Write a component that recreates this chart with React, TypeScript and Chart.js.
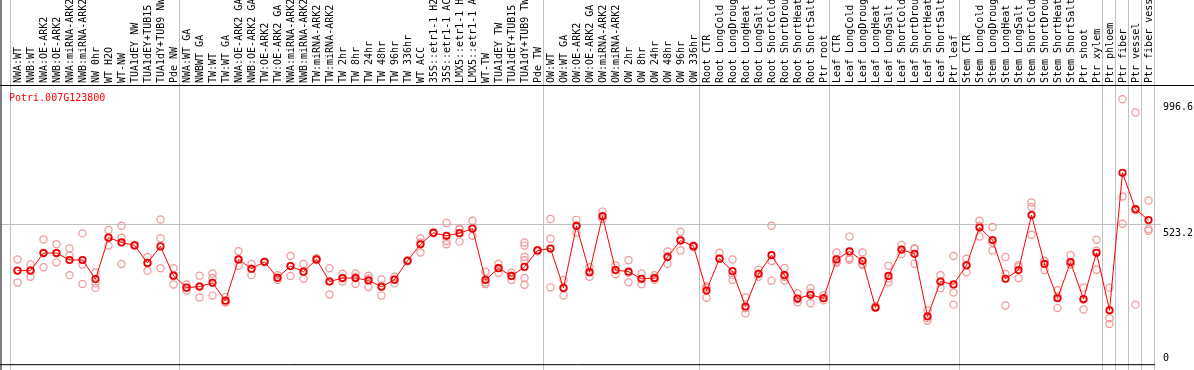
import React, { useEffect, useRef } from 'react';
import { Chart, registerables } from 'chart.js';

Chart.register(...registerables);

const categories = [
  'NWA:WT', 'NWB:WT', 'NWA:OE-ARK2', 'NWB:OE-ARK2', 'NWA:miRNA-ARK2', 'NWB:miRNA-ARK2', 'NW 0hr', 'WT H2O', 'WT-NW',
  'TUA1dEY NW', 'TUA1dEY+TUB15 NW', 'TUA1dY+TUB9 NW', 'Pde NW',
  'NWA:WT GA', 'NWBWT GA', 'TW:WT', 'TW:WT GA', 'NWA:OE-ARK2 GA', 'NWB:OE-ARK2 GA', 'TW:OE-ARK2', 'TW:OE-ARK2 GA',
  'NWA:miRNA-ARK2 GA', 'NWB:miRNA-ARK2 GA', 'TW:miRNA-ARK2', 'TW:miRNA-ARK2 GA',
  'TW 2hr', 'TW 8hr', 'TW 24hr', 'TW 48hr', 'TW 96hr', 'TW 336hr', 'WT ACC',
  '35S::etr1-1 H2O', '35S::etr1-1 ACC', 'LMX5::etr1-1 H2O', 'LMX5::etr1-1 ACC',
  'WT-TW', 'TUA1dEY TW', 'TUA1dEY+TUB15 TW', 'TUA1dY+TUB9 TW', 'Pde TW',
  'OW:WT', 'OW:WT GA', 'OW:OE-ARK2', 'OW:OE-ARK2 GA', 'OW:miRNA-ARK2', 'OW:miRNA-ARK2 GA',
  'OW 2hr', 'OW 8hr', 'OW 24hr', 'OW 48hr', 'OW 96hr', 'OW 336hr',
  'Root CTR', 'Root LongCold', 'Root LongDrought', 'Root LongHeat', 'Root LongSalt',
  'Root ShortCold', 'Root ShortDrought', 'Root ShortHeat', 'Root ShortSalt', 'Ptr root',
  'Leaf CTR', 'Leaf LongCold', 'Leaf LongDrought', 'Leaf LongHeat', 'Leaf LongSalt',
  'Leaf ShortCold', 'Leaf ShortDrought', 'Leaf ShortHeat', 'Leaf ShortSalt', 'Ptr leaf',
  'Stem CTR', 'Stem LongCold', 'Stem LongDrought', 'Stem LongHeat', 'Stem LongSalt',
  'Stem ShortCold', 'Stem ShortDrought', 'Stem ShortHeat', 'Stem ShortSalt', 'Ptr shoot',
  'Ptr xylem', 'Ptr phloem', 'Ptr fiber', 'Ptr vessel', 'Ptr fiber vessel',
];

const means = [
  352, 352, 418, 418, 392, 392, 320, 476, 458, 447, 381, 443, 333,
  288, 292, 306, 239, 394, 359, 385, 325, 369, 348, 394, 311, 324, 324, 315, 291, 318, 389, 451,
  494, 483, 493, 510, 317, 361, 332, 366, 428,
  435, 287, 520, 346, 557, 354, 348, 321, 324, 403, 465, 444,
  277, 397, 350, 217, 340, 410, 335, 247, 261, 248,
  394, 424, 389, 213, 332, 431, 415, 180, 311, 300,
  372, 514, 467, 321, 354, 561, 377, 248, 384, 245, 419,
  203, 720, 583, 542,
];

const replicates = [
  [394, 307, 352], [375, 329, 352], [469, 365, 418], [451, 383, 418], [435, 409, 335], [492, 375, 302],
  [345, 304, 287], [505, 446, 476], [521, 476, 377], [447, 445, 449], [403, 351, 381], [544, 474, 361],
  [361, 300, 333],
  [300, 277, 288], [333, 251, 292], [341, 324, 258], [253, 233, 233], [425, 370, 394], [377, 335, 359],
  [385, 383, 386], [335, 317, 325], [407, 332, 369], [377, 321, 348], [399, 394, 392], [361, 262, 311],
  [340, 311, 324], [341, 302, 329], [333, 290, 322], [319, 258, 296], [329, 304, 318], [389, 387, 391],
  [473, 420, 458], [496, 492, 496], [531, 463, 451], [510, 461, 507], [540, 483, 510], [348, 301, 307],
  [378, 344, 362], [344, 317, 333], [458, 446, 403, 391, 324, 299], [428, 429, 425],
  [546, 472, 289], [317, 258, 287], [543, 495, 521], [365, 329, 346], [574, 546, 555], [371, 338, 354],
  [391, 308, 344], [341, 301, 321], [335, 325, 318], [424, 378, 407], [498, 428, 468], [447, 444, 440],
  [292, 250, 288], [419, 397, 397], [394, 317, 335], [251, 191, 210], [355, 340, 329], [521, 388, 314],
  [362, 315, 329], [266, 233, 244], [286, 229, 269], [259, 248, 240],
  [420, 381, 385], [480, 393, 399], [420, 376, 373], [218, 213, 211], [370, 308, 322], [448, 414, 431],
  [436, 378, 433], [202, 163, 174], [335, 286, 311], [407, 270, 224],
  [397, 346, 373], [540, 480, 521], [516, 428, 458], [403, 339, 221], [372, 323, 366], [608, 591, 487],
  [388, 354, 388], [278, 211, 255], [410, 375, 377], [288, 206, 242], [468, 427, 355],
  [288, 173, 151], [996.6, 631, 528], [947, 224, 579], [616, 509, 502],
];

const yTickValues = [0, 523.2, 996.6];
const yTickLabels = ['0', '523.2', '996.6'];
const yMax = 1046.4;
const groupBreaks = [0, 13, 41, 53, 63, 73, 84, 85, 86, 87, 88];
const geneId = 'Potri.007G123800';

const MONO = '"DejaVu Sans Mono", monospace';

export default function App() {
  const ref = useRef<HTMLCanvasElement>(null);

  useEffect(() => {
    document.body.style.margin = '0';
    const canvas = ref.current;
    if (!canvas) return;

    const repData: { x: string; y: number }[] = [];
    replicates.forEach((arr, i) => {
      arr.forEach((v) => repData.push({ x: categories[i], y: v }));
    });

    const decor = {
      id: 'decor',
      beforeDraw(chart: any) {
        const { ctx, width, height, chartArea, scales } = chart;
        const xs = scales.x;
        const ys = scales.y;
        ctx.save();
        ctx.fillStyle = '#ffffff';
        ctx.fillRect(0, 0, width, height);
        ctx.lineWidth = 1;
        ctx.strokeStyle = '#c0c0c0';
        const step = xs.getPixelForValue(1) - xs.getPixelForValue(0);
        const start = xs.getPixelForValue(0) - step / 2;
        groupBreaks.forEach((b) => {
          const px = Math.round(start + b * step) - 0.5;
          ctx.beginPath();
          ctx.moveTo(px, 0);
          ctx.lineTo(px, height);
          ctx.stroke();
        });
        const gy = Math.round(ys.getPixelForValue(yTickValues[1])) - 0.5;
        ctx.beginPath();
        ctx.moveTo(1, gy);
        ctx.lineTo(chartArea.right + 6, gy);
        ctx.stroke();

        ctx.strokeStyle = '#000000';
        ctx.beginPath();
        ctx.moveTo(0, chartArea.top - 0.5);
        ctx.lineTo(width, chartArea.top - 0.5);
        ctx.moveTo(1, 0);
        ctx.lineTo(1, height);
        ctx.moveTo(0, chartArea.bottom + 0.5);
        ctx.lineTo(chartArea.right, chartArea.bottom + 0.5);
        ctx.stroke();
        ctx.restore();
      },
      afterDatasetsDraw(chart: any) {
        const { ctx, chartArea, scales } = chart;
        const ys = scales.y;
        ctx.save();
        ctx.font = '10px ' + MONO;
        ctx.textBaseline = 'alphabetic';
        ctx.textAlign = 'left';
        ctx.fillStyle = '#ff0000';
        ctx.fillText(geneId, 9, chartArea.top + 15);
        ctx.fillStyle = '#000000';
        yTickValues.forEach((v, i) => {
          const py = ys.getPixelForValue(v);
          const by = v === 0 ? py - 3 : py + 10.5;
          ctx.fillText(yTickLabels[i], chartArea.right + 8, by);
        });
        ctx.restore();
      },
    };

    const chart = new Chart(canvas, {
      type: 'line',
      data: {
        labels: categories,
        datasets: [
          {
            label: 'mean',
            data: means,
            borderColor: '#ff0000',
            borderWidth: 1,
            pointRadius: 3.2,
            pointBorderWidth: 1.8,
            pointBorderColor: '#f00000',
            pointBackgroundColor: 'rgba(255,255,255,0)',
            tension: 0,
            order: 0,
          },
          {
            label: 'replicates',
            data: repData as any,
            showLine: false,
            pointRadius: 3.6,
            pointBorderWidth: 1.2,
            pointBorderColor: 'rgb(240,150,150)',
            pointBackgroundColor: 'rgba(255,255,255,0)',
            order: 1,
          },
        ],
      },
      options: {
        animation: false,
        responsive: false,
        devicePixelRatio: 1,
        layout: { padding: { left: 11, right: 0, top: 0, bottom: 1 } },
        plugins: {
          legend: { display: false },
          tooltip: { enabled: false },
          title: { display: false },
        },
        scales: {
          x: {
            type: 'category',
            position: 'top',
            offset: true,
            grid: { display: false, drawTicks: false },
            border: { display: false },
            ticks: {
              autoSkip: false,
              maxRotation: 90,
              minRotation: 90,
              padding: 3,
              labelOffset: 13,
              color: '#000000',
              font: { family: MONO, size: 10 },
            },
            afterFit: (s: any) => {
              s.height = 86;
            },
          },
          y: {
            type: 'linear',
            position: 'right',
            min: 0,
            max: yMax,
            grid: { display: false },
            border: { display: false },
            ticks: { display: false },
            afterFit: (s: any) => {
              s.width = 39;
            },
          },
        },
      },
      plugins: [decor],
    });

    return () => {
      chart.destroy();
    };
  }, []);

  return (
    <div style={{ width: 1194, height: 370 }}>
      <canvas ref={ref} width={1194} height={370} style={{ display: 'block' }} />
    </div>
  );
}
